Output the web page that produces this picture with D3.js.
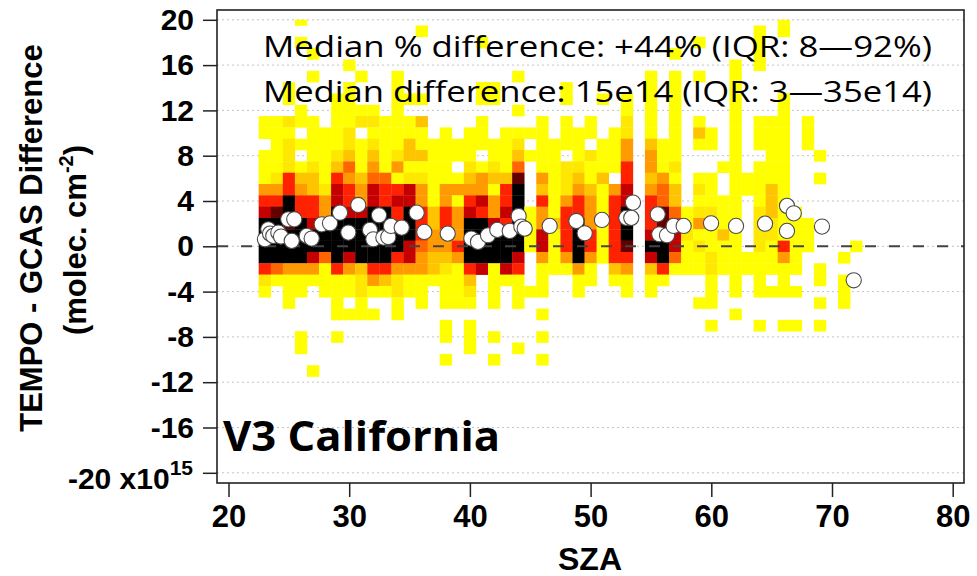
<!DOCTYPE html>
<html><head><meta charset="utf-8">
<script src="https://cdn.jsdelivr.net/npm/d3@7"></script>
<style>body{margin:0;background:#fff}svg{display:block}</style>
</head><body><svg id="chart" width="977" height="576"></svg>
<script>
// ---------- data ----------
const xTicks = [20, 30, 40, 50, 60, 70, 80];
const yTicks = [20, 16, 12, 8, 4, 0, -4, -8, -12, -16, -20];
// heat-map columns: SZA bin centres (1 deg wide)
const columnSZA = d3.range(23, 73);
// difference bin centres (1e15 tall), top to bottom
const rowDiff = d3.range(20, -12, -1);
// colour level per bin (0 = empty ... 9 = densest), rows v=20..12 | 11..4 | 3..-4 | -5..-11
const columnLevels = [
  "000000000|11011146|79999621|0000000", // 23
  "000000000|11111246|89999510|0000000", // 24
  "000000110|21222669|98999411|1000000", // 25
  "101000001|10101346|69999411|0001100", // 26
  "000101000|11112336|67997410|0000001", // 27
  "000000000|01111124|46995111|0000000", // 28
  "000000011|11123677|99999611|1101000", // 29
  "000010111|12235466|79997411|0100000", // 30
  "000001001|20111344|79999322|1100000", // 31
  "000000001|21234577|99999641|0100000", // 32
  "000000000|11111566|99999631|0000000", // 33
  "000001111|11124167|66996422|1100000", // 34
  "000000010|11331277|99977411|0000000", // 35
  "010000010|31131244|66654411|1000000", // 36
  "000000000|00111111|33443310|0000000", // 37
  "000000000|01111144|66443211|1011010", // 38
  "000000000|00110141|44464111|1000000", // 39
  "000000000|01112346|79999632|1011100", // 40
  "001000110|11101447|69999700|0000000", // 41
  "000000110|00112314|47999111|1001010", // 42
  "000000000|01111366|76999710|0000000", // 43
  "000001001|01235899|99997611|1000100", // 44
  "000000000|01010000|11110001|0000000", // 45
  "000000000|11111436|44774111|0101010", // 46
  "000000000|00111111|13111100|0000000", // 47
  "000000110|11102224|66664100|0000000", // 48
  "000000000|01112346|69999411|0000000", // 49
  "000000000|11021134|44664110|0000000", // 50
  "000000010|00111311|11111000|0000000", // 51
  "000000000|01111046|66666310|0000000", // 52
  "000000011|22446677|99986411|0000000", // 53
  "000000000|00000000|00000000|0000000", // 54
  "000001111|11344346|66797311|0000000", // 55
  "000000000|00111455|88999610|0000000", // 56
  "000101111|11112133|56775100|0000000", // 57
  "000000000|00000000|11211100|0000000", // 58
  "001001000|13100121|24121100|1000000", // 59
  "000000000|01100111|21112211|1010000", // 60
  "000000000|00001001|11311100|0000000", // 61
  "000011111|11111111|11111111|0100000", // 62
  "000000000|00000110|00001100|0000000", // 63
  "011110000|11101111|22221111|0010000", // 64
  "000000000|11111133|32211101|0000000", // 65
  "110000011|11111111|11164111|0010000", // 66
  "000000000|00000000|11111101|0010000", // 67
  "000000000|11100000|01110000|0000000", // 68
  "000000000|00010100|00000110|1010000", // 69
  "000000000|00000000|00000000|0000000", // 70
  "000000000|00000000|00001011|1000000", // 71
  "000000000|00000000|00010000|0000000"  // 72
];
// binned medians (white circles)
const circleSZA = [23.02, 23.30, 23.44, 23.71, 24.13, 24.35, 24.95, 25.45, 25.24, 26.48, 26.89, 27.72, 28.41, 29.24, 29.93, 30.75, 31.72, 32.00, 32.47, 32.83, 33.24, 33.46, 34.35, 35.59, 36.22, 38.16, 40.12, 40.67, 41.50, 42.27, 43.30, 44.04, 44.26, 44.54, 46.61, 48.82, 49.51, 50.94, 52.96, 53.37, 53.51, 55.56, 55.69, 56.33, 56.88, 57.71, 59.98, 62.05, 64.45, 66.27, 66.83, 66.27, 69.17, 71.80];
const circleDiff = [0.62, 1.50, 1.12, 0.92, 1.21, 0.86, 2.38, 2.38, 0.48, 0.92, 0.68, 1.94, 2.03, 2.97, 1.21, 3.65, 1.45, 0.62, 2.74, 0.77, 0.83, 1.80, 1.65, 2.97, 1.27, 1.12, 0.68, 0.39, 0.97, 1.45, 1.36, 2.68, 1.74, 1.56, 1.80, 2.24, 1.15, 2.33, 2.51, 2.51, 3.86, 2.82, 1.06, 0.97, 1.80, 1.80, 2.03, 1.80, 2.00, 3.57, 2.91, 1.36, 1.74, -3.00];
const statLines = ["Median % difference: +44% (IQR: 8\u201492%)", "Median difference: 15e14 (IQR: 3\u201435e14)"];
const panelLabel = "V3 California";

// ---------- drawing ----------
const svg = d3.select("#chart");
const x = d3.scaleLinear().domain([20, 80]).range([228.5, 952.7]);
const y = d3.scaleLinear().domain([-20, 20]).range([472.8, 19.8]);
const frame = {x0: 217, x1: 964, y0: 10, y1: 483};
const color = d3.scaleLinear()
  .domain([1, 2, 3, 4, 5, 6, 7, 8, 9])
  .range(["#ffff00", "#ffe800", "#ffc400", "#ff9a00", "#ff6600", "#ff2200", "#c40000", "#640000", "#000000"]);
const tickFont = "'Liberation Sans', Arial, Helvetica, sans-serif";

svg.append("defs").append("clipPath").attr("id", "clip")
  .append("rect").attr("x", frame.x0).attr("width", frame.x1 - frame.x0)
  .attr("y", y(20)).attr("height", y(-20) - y(20));

// gridlines
svg.append("g").selectAll("line").data(yTicks).join("line")
  .attr("x1", frame.x0).attr("x2", frame.x1)
  .attr("y1", d => y(d)).attr("y2", d => y(d))
  .attr("stroke", "#c4c4c4").attr("stroke-width", 1).attr("stroke-dasharray", "2,3");

// heat cells
const cells = [];
columnLevels.forEach((s, i) => {
  const lv = s.replace(/\|/g, "");
  rowDiff.forEach((v, j) => {
    const L = +lv[j];
    if (L > 0) cells.push({sza: columnSZA[i], diff: v, level: L});
  });
});
svg.append("g").attr("clip-path", "url(#clip)").selectAll("rect").data(cells).join("rect")
  .attr("x", d => x(d.sza - 0.5))
  .attr("width", d => x(d.sza + 0.5) - x(d.sza - 0.5) + 0.3)
  .attr("y", d => y(d.diff + 0.5))
  .attr("height", d => y(d.diff - 0.5) - y(d.diff + 0.5) + 0.3)
  .attr("fill", d => color(d.level));

// zero line
svg.append("line").attr("x1", frame.x0).attr("x2", frame.x1)
  .attr("y1", y(0)).attr("y2", y(0))
  .attr("stroke", "#444").attr("stroke-width", 2).attr("stroke-dasharray", "11,13");

// circles
svg.append("g").selectAll("circle").data(circleSZA.map((s, i) => ({s, d: circleDiff[i]}))).join("circle")
  .attr("cx", d => x(d.s)).attr("cy", d => y(d.d)).attr("r", 7.6)
  .attr("fill", "#fff").attr("stroke", "#4a4a4a").attr("stroke-width", 1.1);

// frame
svg.append("rect").attr("x", frame.x0).attr("y", frame.y0)
  .attr("width", frame.x1 - frame.x0).attr("height", frame.y1 - frame.y0)
  .attr("fill", "none").attr("stroke", "#222").attr("stroke-width", 1.6);

// y axis
const yAxis = d3.axisLeft(y).tickValues(yTicks).tickSize(14).tickPadding(9).tickFormat(d => d === -20 ? "" : d);
const gy = svg.append("g").attr("transform", `translate(${frame.x0},0)`).call(yAxis);
gy.select(".domain").remove();
gy.selectAll(".tick line").attr("stroke", "#222").attr("stroke-width", 1.5);
gy.selectAll(".tick text").attr("font-family", tickFont).attr("font-weight", "bold")
  .attr("font-size", 30).attr("fill", "#000");
const lastLbl = svg.append("text").attr("x", 193).attr("y", y(-20) + 16)
  .attr("text-anchor", "end").attr("font-family", tickFont).attr("font-weight", "bold")
  .attr("font-size", 30).attr("fill", "#000");
lastLbl.append("tspan").text("-20 x10");
lastLbl.append("tspan").attr("font-size", 21).attr("dy", -14).text("15");

// x axis
const xAxis = d3.axisBottom(x).tickValues(xTicks).tickSize(14).tickPadding(8);
const gx = svg.append("g").attr("transform", `translate(0,${frame.y1})`).call(xAxis);
gx.select(".domain").remove();
gx.selectAll(".tick line").attr("stroke", "#222").attr("stroke-width", 1.5);
gx.selectAll(".tick text").attr("font-family", tickFont).attr("font-weight", "bold")
  .attr("font-size", 31).attr("fill", "#000");

svg.append("text").attr("x", 590).attr("y", 570).attr("text-anchor", "middle")
  .attr("font-family", tickFont).attr("font-weight", "bold").attr("font-size", 32).text("SZA");

// y title
const t1 = svg.append("text").attr("transform", "translate(42,238) rotate(-90)")
  .attr("text-anchor", "middle").attr("font-family", tickFont).attr("font-weight", "bold")
  .attr("font-size", 31).text("TEMPO - GCAS Difference");
const t2 = svg.append("text").attr("transform", "translate(86,240) rotate(-90)")
  .attr("text-anchor", "middle").attr("font-family", tickFont).attr("font-weight", "bold")
  .attr("font-size", 31);
t2.append("tspan").text("(molec. cm");
t2.append("tspan").attr("font-size", 20).attr("dy", -13).text("-2");
t2.append("tspan").attr("dy", 13).text(")");

// annotations
svg.append("g").selectAll("text").data(statLines).join("text")
  .attr("x", 263).attr("y", (d, i) => 57 + i * 45)
  .attr("font-family", "'Open Sans', 'Noto Sans', sans-serif").attr("font-size", 30)
  .attr("textLength", 669).attr("lengthAdjust", "spacingAndGlyphs")
  .attr("fill", "#000").text(d => d);

svg.append("text").attr("x", 223).attr("y", 451)
  .attr("font-family", "'Open Sans', 'Noto Sans', sans-serif").attr("font-weight", "bold")
  .attr("font-size", 42).attr("textLength", 277).attr("lengthAdjust", "spacingAndGlyphs")
  .text(panelLabel);
</script></body></html>
